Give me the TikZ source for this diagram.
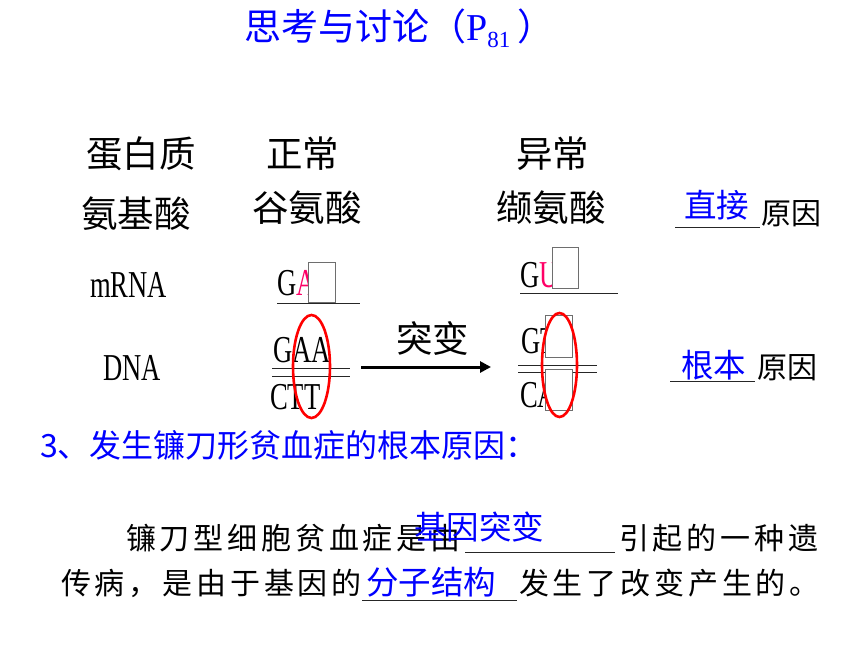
\documentclass[tikz,border=0pt]{standalone}
\usepackage{fontspec}
\setmainfont{Liberation Serif}
\newfontfamily\cjk{Noto Sans CJK SC}
\newfontfamily\cjkw[LetterSpace=12.7]{Noto Sans CJK SC}
\newfontfamily\lser[FakeStretch=0.7]{Liberation Serif}
\usetikzlibrary{shapes.geometric,arrows.meta}
\definecolor{pinkA}{RGB}{255,0,102}
\definecolor{boxgray}{RGB}{110,110,110}
\definecolor{myblue}{RGB}{0,0,255}
\begin{document}
\begin{tikzpicture}[x=1pt,y=-1pt,
  t/.style={inner sep=0pt, anchor=base west},
  big/.style={t, font=\cjk\fontsize{36.5}{40}\selectfont},
  sm/.style={t, font=\cjk\fontsize{30}{34}\selectfont},
  ans/.style={t, text=myblue, font=\cjk\fontsize{32.5}{36}\selectfont},
  seq/.style={t, font=\lser\fontsize{38}{40}\selectfont},
  body/.style={t, font=\cjkw\fontsize{30}{34}\selectfont},
  hidebox/.style={draw=boxgray, fill=white, line width=0.8pt, inner sep=0pt},
  oval/.style={draw=red, ellipse, line width=2.6pt, inner sep=0pt},
  uline/.style={line width=1pt, black!85}
]
\useasboundingbox (0,0) rectangle (860,645);
% title
\node[t, text=myblue, font=\cjk\fontsize{37}{40}\selectfont] (title) at (244,40)
  {思考与讨论（{\rmfamily\fontsize{38}{40}\selectfont P}\raisebox{-7pt}{\rmfamily\fontsize{23}{24}\selectfont 81}\hspace{7pt}）};
% headings
\node[big] (prot) at (86,167) {蛋白质};
\node[big] (norm) at (266,167) {正常};
\node[big] (abn) at (516,167) {异常};
\node[big] (aa) at (81,227) {氨基酸};
\node[big] (glu) at (252,221) {谷氨酸};
\node[big] (val) at (496,221) {缬氨酸};
\node[ans] (zj) at (684,217) {直接};
\draw[uline] (675,227) -- (760,227);
\node[sm] (yy1) at (761,224) {原因};
\node[ans] (gb) at (681,377) {根本};
\draw[uline] (670,381) -- (755,381);
\node[sm] (yy2) at (757,378) {原因};
% sequences normal
\node[seq] (mrna) at (90,297) {mRNA};
\node[seq] (dna) at (103,380) {DNA};
\node[seq] (m1) at (277,295) {G\textcolor{pinkA}{A}};
\node[hidebox, minimum width=27pt, minimum height=40pt] (bx1) at (321.5,282) {};
\draw[uline] (277,303) -- (360,303);
\node[seq] (d1) at (273,362) {GAA};
\draw[uline] (272,368) -- (350,368);
\draw[uline] (272,376) -- (350,376);
\node[seq] (d2) at (270,409) {CTT};
\node[oval, minimum width=37pt, minimum height=103pt] (ov1) at (311.5,366.5) {};
% arrow
\node[big] (tb) at (396,352) {突变};
\coordinate (ar1) at (361,367);
\coordinate (ar2) at (491,367);
\draw[line width=3pt, -{Triangle[length=11pt,width=11pt]}] (ar1) -- (ar2);
% sequences abnormal
\node[seq] (m2) at (520,287) {G\textcolor{pinkA}{U}};
\node[hidebox, minimum width=26pt, minimum height=41pt] (bx2) at (565,267.5) {};
\draw[uline] (520,293) -- (618,293);
\node[seq] (d3) at (521,353) {GTA};
\node[hidebox, minimum width=27pt, minimum height=42pt] (bx3) at (558.5,336) {};
\draw[uline] (518,365) -- (597,365);
\draw[uline] (518,372) -- (597,372);
\node[seq] (d4) at (520,407) {CAT};
\node[hidebox, minimum width=27pt, minimum height=41pt] (bx4) at (558.5,389.5) {};
\node[oval, minimum width=35pt, minimum height=104pt] (ov2) at (559.5,365) {};
% bottom
\node[t, text=myblue, font=\cjk\fontsize{32}{36}\selectfont] (q3) at (40,457) {3、发生镰刀形贫血症的根本原因：};
\node[body] (l1a) at (126,549) {镰刀型细胞贫血症是由};
\draw[uline] (465,552) -- (615,552);
\node[ans] (a1) at (414,539) {基因突变};
\node[body] (l1b) at (619,549) {引起的一种遗};
\node[body] (l2a) at (61,594) {传病，是由于基因的};
\draw[uline] (362,600) -- (517,600);
\node[ans] (a2) at (366,594) {分子结构};
\node[body] (l2b) at (519,594) {发生了改变产生的。};
\end{tikzpicture}
\end{document}
